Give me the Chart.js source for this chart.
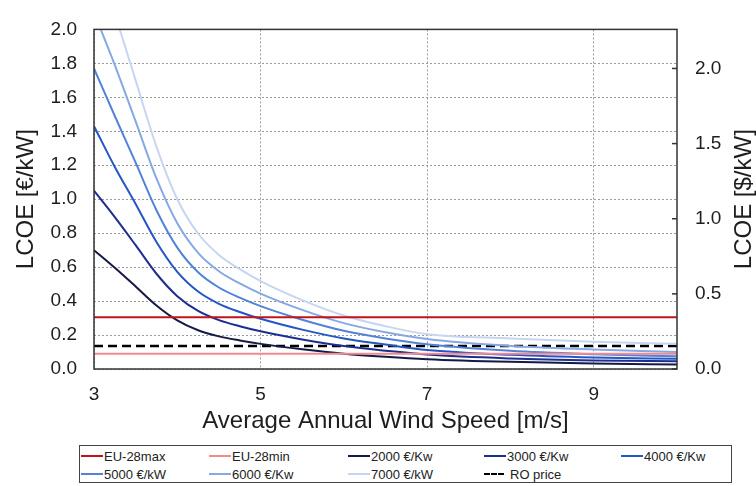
<!DOCTYPE html>
<html>
<head>
<meta charset="utf-8">
<script src="https://cdn.jsdelivr.net/npm/chart.js@4.4.1/dist/chart.umd.min.js"></script>
<style>
  body { margin: 0; background: #fff; }
  #wrap { position: relative; width: 756px; height: 486px; }
  #chartBox { position: absolute; left: 0; top: 0; width: 756px; height: 440px; }
  #legend { position: absolute; left: 79px; top: 445px; width: 653px; height: 38px; border: 1px solid #444; box-sizing: border-box;
            font-family: "Liberation Sans", Arial, sans-serif; font-size: 13px; color: #222; }
  .item { position: absolute; display: flex; align-items: center; white-space: nowrap; height: 14px; }
  .swatch { width: 22px; height: 0; border-top: 2px solid; margin-right: 1px; }
</style>
</head>
<body>
<div id="wrap">
  <div id="chartBox"><canvas id="lcoeChart"></canvas></div>
  <div id="legend"></div>
</div>
<script>
// wind speed [m/s] and LCOE [€/kW]
const speeds = [3, 3.25, 3.5, 3.75, 4, 4.25, 4.5, 4.75, 5, 5.5, 6, 6.5, 7, 8, 9, 10];
const lcoe2000 = [0.70, 0.596, 0.486, 0.374, 0.286, 0.228, 0.192, 0.168, 0.148, 0.116, 0.09, 0.072, 0.058, 0.042, 0.032, 0.026];
const lcoe3000 = [1.05, 0.894, 0.729, 0.561, 0.429, 0.342, 0.288, 0.252, 0.222, 0.174, 0.135, 0.108, 0.085, 0.062, 0.05, 0.045];
const lcoe4000 = [1.43, 1.19, 0.972, 0.748, 0.572, 0.456, 0.384, 0.336, 0.296, 0.232, 0.18, 0.144, 0.112, 0.084, 0.068, 0.06];
const lcoe5000 = [1.77, 1.49, 1.215, 0.935, 0.715, 0.57, 0.48, 0.42, 0.37, 0.29, 0.225, 0.18, 0.146, 0.107, 0.087, 0.075];
const lcoe6000 = [2.10, 1.79, 1.458, 1.122, 0.858, 0.684, 0.576, 0.504, 0.444, 0.348, 0.27, 0.216, 0.176, 0.135, 0.115, 0.10];
const lcoe7000 = [2.45, 2.09, 1.70, 1.31, 1.00, 0.798, 0.672, 0.588, 0.518, 0.406, 0.315, 0.252, 0.205, 0.18, 0.16, 0.148];

// flat reference levels
const flatSpeeds = [3, 10];
const eu28Max = [0.305, 0.305];
const eu28Min = [0.09, 0.09];
const roPrice = [0.135, 0.135];

const xTicks = [3, 5, 7, 9];
const usdTicks = [0, 0.5, 1.0, 1.5, 2.0];
const usdMax = 2.26;

const xTitle = 'Average Annual Wind Speed [m/s]';
const yTitle = 'LCOE [€/kW]';
const y2Title = 'LCOE [$/kW]';

const FONT = '"Liberation Sans", Arial, sans-serif';
const TXT = '#1e1e1e';

const pts = (xs, ys) => xs.map((x, i) => ({ x: x, y: ys[i] }));

const series = [
  { label: 'EU-28max', xs: flatSpeeds, ys: eu28Max, color: '#c0141c' },
  { label: 'EU-28min', xs: flatSpeeds, ys: eu28Min, color: '#f28a8e' },
  { label: '2000 €/Kw', xs: speeds, ys: lcoe2000, color: '#141a45' },
  { label: '3000 €/Kw', xs: speeds, ys: lcoe3000, color: '#1c2f8e' },
  { label: '4000 €/Kw', xs: speeds, ys: lcoe4000, color: '#2456c6' },
  { label: '5000 €/kW', xs: speeds, ys: lcoe5000, color: '#5283d8' },
  { label: '6000 €/Kw', xs: speeds, ys: lcoe6000, color: '#86a8e4' },
  { label: '7000 €/kW', xs: speeds, ys: lcoe7000, color: '#c6d6f1' },
  { label: 'RO price', xs: flatSpeeds, ys: roPrice, color: '#000000', dash: [9, 5] }
];

const datasets = series.map(s => ({
  label: s.label,
  data: pts(s.xs, s.ys),
  borderColor: s.color,
  backgroundColor: s.color,
  borderWidth: s.dash ? 2.5 : 2,
  borderDash: s.dash || [],
  pointRadius: 0,
  cubicInterpolationMode: 'monotone',
  fill: false,
  yAxisID: 'y'
}));

// frame round the plot, inward ticks on the $ axis and its title (reads bottom to top)
const frame = {
  id: 'frame',
  afterDraw(chart) {
    const { ctx, chartArea: a, scales } = chart;
    ctx.save();
    ctx.strokeStyle = '#333';
    ctx.lineWidth = 1.5;
    ctx.strokeRect(a.left, a.top, a.right - a.left, a.bottom - a.top);
    scales.y2.ticks.forEach(t => {
      const y = scales.y2.getPixelForValue(t.value);
      ctx.beginPath();
      ctx.moveTo(a.right - 5, y);
      ctx.lineTo(a.right, y);
      ctx.stroke();
    });
    ctx.translate(744, (a.top + a.bottom) / 2);
    ctx.rotate(-Math.PI / 2);
    ctx.font = '24px ' + FONT;
    ctx.fillStyle = TXT;
    ctx.textAlign = 'center';
    ctx.textBaseline = 'middle';
    ctx.fillText(y2Title, 0, 0);
    ctx.restore();
  }
};

new Chart(document.getElementById('lcoeChart'), {
  type: 'line',
  data: { datasets },
  plugins: [frame],
  options: {
    responsive: true,
    maintainAspectRatio: false,
    animation: false,
    layout: { padding: { top: 16, left: 0, right: 0, bottom: 0 } },
    plugins: { legend: { display: false }, tooltip: { enabled: false } },
    scales: {
      x: {
        type: 'linear', min: 3, max: 10,
        afterBuildTicks: s => { s.ticks = xTicks.map(v => ({ value: v })); },
        afterFit: s => { s.height = 71; },
        ticks: { font: { family: FONT, size: 19 }, color: TXT, padding: 14 },
        grid: { color: '#9a9a9a', lineWidth: 1, drawTicks: false },
        border: { display: false, dash: [2, 2] },
        title: { display: true, text: xTitle, color: TXT, font: { family: FONT, size: 24 }, padding: { top: 0, bottom: 4 } }
      },
      y: {
        position: 'left', min: 0, max: 2,
        afterFit: s => { s.width = 94; },
        ticks: { stepSize: 0.2, font: { family: FONT, size: 19 }, color: TXT, padding: 17, callback: v => v.toFixed(1) },
        grid: { color: '#9a9a9a', lineWidth: 1, drawTicks: false },
        border: { display: false, dash: [2, 2] },
        title: { display: true, text: yTitle, color: TXT, font: { family: FONT, size: 24 }, padding: { top: 12, bottom: 0 } }
      },
      y2: {
        position: 'right', min: 0, max: usdMax,
        afterBuildTicks: s => { s.ticks = usdTicks.map(v => ({ value: v })); },
        afterFit: s => { s.width = 79; },
        ticks: { font: { family: FONT, size: 19 }, color: TXT, padding: 18, callback: v => v.toFixed(1) },
        grid: { display: false, drawTicks: false },
        border: { display: false }
      }
    }
  }
});

// legend box: two rows of five, drawn as html under the chart
const colX = [1, 129, 268, 404, 541];
const rowY = [3, 21];
const legend = document.getElementById('legend');
const order = ['EU-28max', 'EU-28min', '2000 €/Kw', '3000 €/Kw', '4000 €/Kw',
               '5000 €/kW', '6000 €/Kw', '7000 €/kW', 'RO price'];
order.forEach((name, i) => {
  const s = series.find(d => d.label === name);
  const el = document.createElement('div');
  el.className = 'item';
  el.style.left = colX[i % 5] + 'px';
  el.style.top = rowY[Math.floor(i / 5)] + 'px';
  const sw = s.dash
    ? '<span class="swatch" style="border-top:2.5px dashed ' + s.color + ';width:20px;margin-right:6px"></span>'
    : '<span class="swatch" style="border-color:' + s.color + '"></span>';
  el.innerHTML = sw + '<span>' + name + '</span>';
  legend.appendChild(el);
});
</script>
</body>
</html>
